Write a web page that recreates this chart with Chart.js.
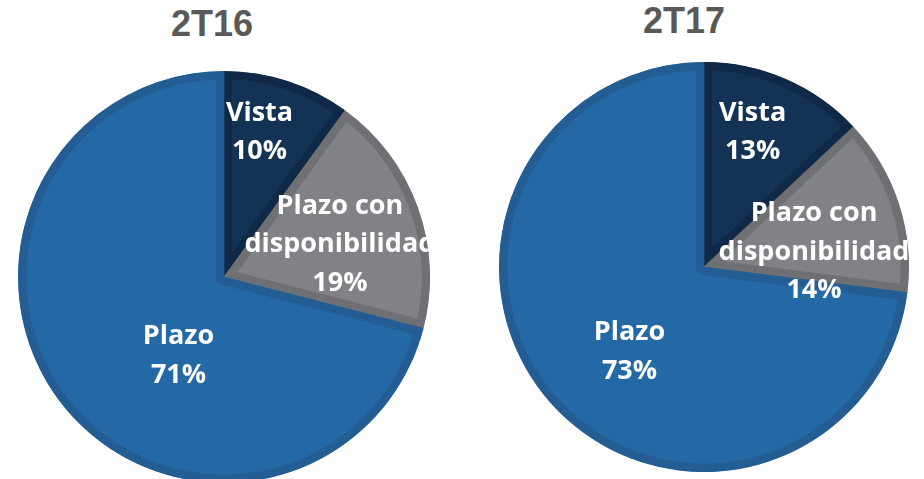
<!DOCTYPE html>
<html>
<head>
<meta charset="utf-8">
<script src="https://cdn.jsdelivr.net/npm/chart.js@4.4.1/dist/chart.umd.min.js"></script>
<style>
  html, body { margin: 0; padding: 0; background: #fff; overflow: hidden; }
  body { width: 924px; height: 479px; position: relative; }
  .title {
    position: absolute; width: 200px; text-align: center;
    font: bold 36px "Liberation Sans", Arial, sans-serif; line-height: 36px;
    color: #595959;
  }
  .box { position: absolute; }
</style>
</head>
<body>
<div class="title" style="left:112px; top:6px;">2T16</div>
<div class="title" style="left:584px; top:3px;">2T17</div>
<div class="box" style="left:18px; top:71px; width:412px; height:412px;"><canvas id="pie2T16"></canvas></div>
<div class="box" style="left:499px; top:62px; width:410px; height:410px;"><canvas id="pie2T17"></canvas></div>
<script>
const categories = [["Vista"], ["Plazo con", "disponibilidad"], ["Plazo"]];
const values2T16 = [10, 19, 71];
const values2T17 = [13, 14, 73];

const fillColors = ["#133254", "#808285", "#2369a6"];
const edgeColors = ["#0f2946", "#6e7074", "#235d94"];

// label placement per slice: [angle shift in degrees, fraction of radius]
const place2T16 = [[-4.4, 0.733], [3.2, 0.587], [-21.6, 0.434]];
const place2T17 = [[-3.8, 0.707], [9.2, 0.543], [-6.7, 0.544]];

const sliceLabels = {
  id: "sliceLabels",
  afterDatasetsDraw(chart, args, opts) {
    const ctx = chart.ctx;
    const meta = chart.getDatasetMeta(0);
    const vals = chart.data.datasets[0].data;
    const lineH = 38.5, cap = 19.3;
    ctx.save();
    ctx.fillStyle = "#ffffff";
    ctx.font = "bold 27px 'Open Sans', sans-serif";
    ctx.textAlign = "center";
    ctx.textBaseline = "alphabetic";
    meta.data.forEach((arc, i) => {
      const p = arc.getProps(["x", "y", "startAngle", "endAngle", "outerRadius"], true);
      const a = (p.startAngle + p.endAngle) / 2 + opts.place[i][0] * Math.PI / 180;
      const r = p.outerRadius * opts.place[i][1];
      const cx = p.x + Math.cos(a) * r;
      const cy = p.y + Math.sin(a) * r;
      const lines = categories[i].concat([vals[i] + "%"]);
      let y = cy - ((lines.length - 1) * lineH + cap) / 2 + cap;
      lines.forEach(t => { ctx.fillText(t, cx, y); y += lineH; });
    });
    ctx.restore();
  }
};

function makePie(id, values, place) {
  return new Chart(document.getElementById(id), {
    type: "pie",
    data: {
      labels: categories.map(c => c.join(" ")),
      datasets: [{
        data: values,
        backgroundColor: fillColors,
        borderColor: edgeColors,
        borderWidth: 8,
        borderAlign: "inner"
      }]
    },
    options: {
      responsive: true,
      maintainAspectRatio: false,
      animation: false,
      layout: { padding: 0 },
      plugins: {
        legend: { display: false },
        tooltip: { enabled: false },
        sliceLabels: { place: place }
      }
    },
    plugins: [sliceLabels]
  });
}

makePie("pie2T16", values2T16, place2T16);
makePie("pie2T17", values2T17, place2T17);
</script>
</body>
</html>
